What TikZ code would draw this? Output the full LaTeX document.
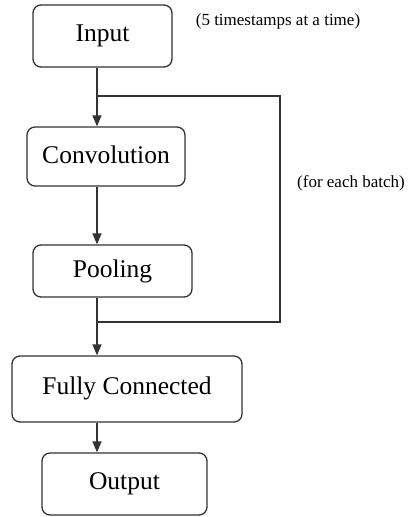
\documentclass[tikz,border=0pt]{standalone}
\usepackage{fontspec}
\setmainfont{Liberation Serif}
\usetikzlibrary{arrows.meta}
\definecolor{linec}{HTML}{333333}
\tikzset{
  blk/.style={draw=linec, line width=1.3pt, rounded corners=8pt, inner sep=0pt,
    font=\fontsize{25.5}{28}\selectfont, text=black},
  conn/.style={draw=linec, line width=1.3pt},
  arr/.style={conn, -{Triangle[width=9pt,length=11pt]}},
  note/.style={font=\fontsize{17}{19}\selectfont, text=black, inner sep=0pt}
}
\begin{document}
\begin{tikzpicture}[x=1pt,y=-1pt]
\useasboundingbox (0,0) rectangle (414,517);
\node[blk, minimum width=139pt, minimum height=62pt] (in) at (102.5,36) {\raisebox{5pt}{Input}};
\node[blk, minimum width=158pt, minimum height=59pt] (conv) at (106,156.5) {\raisebox{3pt}{Convolution}};
\node[blk, minimum width=159pt, minimum height=52pt] (pool) at (112.5,271) {\raisebox{1pt}{Pooling}};
\node[blk, minimum width=230pt, minimum height=66pt] (fc) at (127,389) {\raisebox{6pt}{Fully Connected}};
\node[blk, minimum width=165pt, minimum height=62pt] (out) at (124.5,484) {\raisebox{5pt}{Output}};
\node[note] (n1) at (278,21) {(5 timestamps at a time)};
\node[note] (n2) at (351,183) {(for each batch)};
\coordinate (spine) at (97,0);
\coordinate (j1) at (97,96);
\coordinate (r1) at (280,96);
\coordinate (r2) at (280,322);
\coordinate (j2) at (97,322);
\draw[arr] (in.south -| spine) -- (conv.north -| spine);
\draw[arr] (conv.south -| spine) -- (pool.north -| spine);
\draw[arr] (pool.south -| spine) -- (fc.north -| spine);
\draw[arr] (fc.south -| spine) -- (out.north -| spine);
\draw[conn] (j1) -- (r1) -- (r2) -- (j2);
\end{tikzpicture}
\end{document}
